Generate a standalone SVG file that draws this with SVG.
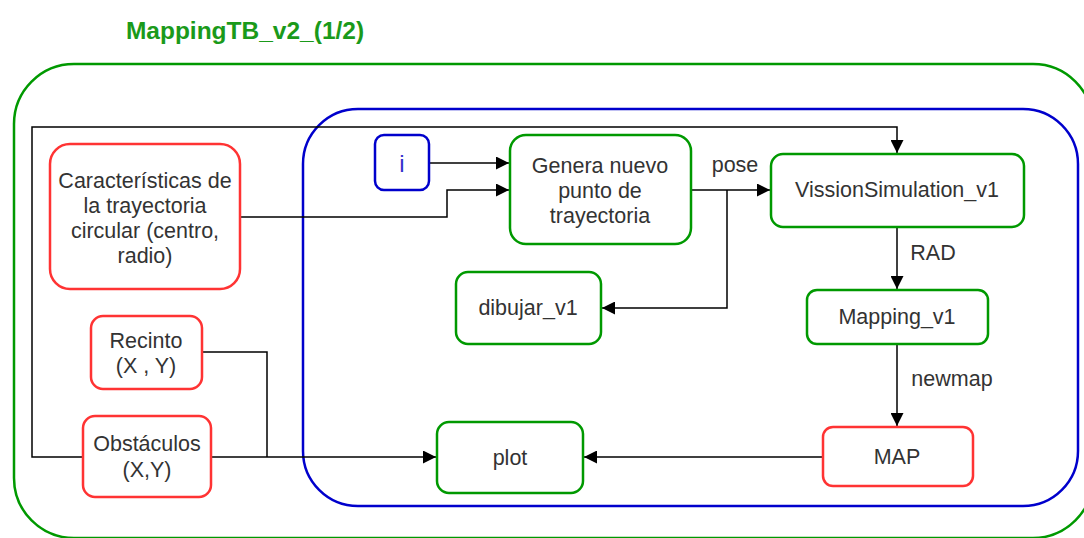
<svg xmlns="http://www.w3.org/2000/svg" width="1084" height="538" viewBox="0 0 1084 538">
<defs>
<style>
.t{font-family:"Liberation Sans",Arial,sans-serif;font-size:21.5px;fill:#333333;text-anchor:middle;dominant-baseline:central}
.g{fill:#ffffff;stroke:#009900;stroke-width:2.5}
.r{fill:#ffffff;stroke:#ff3333;stroke-width:2.5}
.c{fill:none;stroke:#000000;stroke-width:1.5}
</style>
<marker id="ah" viewBox="0 0 10 10" refX="10" refY="5" markerWidth="13" markerHeight="13" markerUnits="userSpaceOnUse" orient="auto">
<path d="M0,0 L10,5 L0,10 Z" fill="#000000"/>
</marker>
</defs>
<rect width="1084" height="538" fill="#ffffff"/>
<text x="245" y="30" font-family="'Liberation Sans',Arial,sans-serif" font-size="24.5" font-weight="bold" fill="#1a9a1a" text-anchor="middle" dominant-baseline="central">MappingTB_v2_(1/2)</text>
<g id="outer"><rect x="14" y="64" width="1079" height="474" rx="60" fill="none" stroke="#009900" stroke-width="2.5"/></g>
<g id="inner"><rect x="303" y="109" width="775" height="397" rx="55" fill="none" stroke="#0000cc" stroke-width="2.5"/></g>
<g id="connectors">
<path class="c" d="M83,457 L32,457 L32,127 L897,127 L897,153" marker-end="url(#ah)"/>
<path class="c" d="M240,217 L447,217 L447,190 L509,190" marker-end="url(#ah)"/>
<path class="c" d="M429,163 L509,163" marker-end="url(#ah)"/>
<path class="c" d="M691,190 L770,190" marker-end="url(#ah)"/>
<path class="c" d="M727,190 L727,308 L602,308" marker-end="url(#ah)"/>
<path class="c" d="M897,227 L897,289" marker-end="url(#ah)"/>
<path class="c" d="M897,344 L897,426" marker-end="url(#ah)"/>
<path class="c" d="M823,457 L584,457" marker-end="url(#ah)"/>
<path class="c" d="M202,352 L267,352 L267,457"/>
<path class="c" d="M211,457 L436,457" marker-end="url(#ah)"/>
<text class="t" x="735" y="165">pose</text>
<text class="t" x="933" y="253">RAD</text>
<text class="t" x="952" y="379">newmap</text>
</g>
<g id="caracteristicas">
<rect class="r" x="50" y="144" width="190" height="145" rx="20"/>
<text class="t" x="145" y="181">Características de</text>
<text class="t" x="145" y="206">la trayectoria</text>
<text class="t" x="145" y="231">circular (centro,</text>
<text class="t" x="145" y="256">radio)</text>
</g>
<g id="recinto">
<rect class="r" x="91" y="316" width="111" height="73" rx="12"/>
<text class="t" x="146" y="341">Recinto</text>
<text class="t" x="146" y="366">(X , Y)</text>
</g>
<g id="obstaculos">
<rect class="r" x="83" y="416" width="128" height="81" rx="12"/>
<text class="t" x="147" y="444">Obstáculos</text>
<text class="t" x="147" y="470">(X,Y)</text>
</g>
<g id="i">
<rect x="375" y="135" width="54" height="55" rx="9" fill="#ffffff" stroke="#0000cc" stroke-width="2.5"/>
<text class="t" x="402" y="163" style="fill:#3333cc;font-size:24px">i</text>
</g>
<g id="genera">
<rect class="g" x="510" y="135" width="181" height="109" rx="16"/>
<text class="t" x="600" y="166">Genera nuevo</text>
<text class="t" x="600" y="191">punto de</text>
<text class="t" x="600" y="216">trayectoria</text>
</g>
<g id="vission">
<rect class="g" x="771" y="154" width="253" height="73" rx="12"/>
<text class="t" x="897" y="190">VissionSimulation_v1</text>
</g>
<g id="dibujar">
<rect class="g" x="456" y="272" width="145" height="72" rx="12"/>
<text class="t" x="528" y="308">dibujar_v1</text>
</g>
<g id="mapping">
<rect class="g" x="807" y="290" width="181" height="54" rx="10"/>
<text class="t" x="897" y="317">Mapping_v1</text>
</g>
<g id="map">
<rect class="r" x="823" y="427" width="150" height="59" rx="10"/>
<text class="t" x="897" y="457">MAP</text>
</g>
<g id="plot">
<rect class="g" x="437" y="422" width="146" height="71" rx="12"/>
<text class="t" x="510" y="458">plot</text>
</g>
</svg>
